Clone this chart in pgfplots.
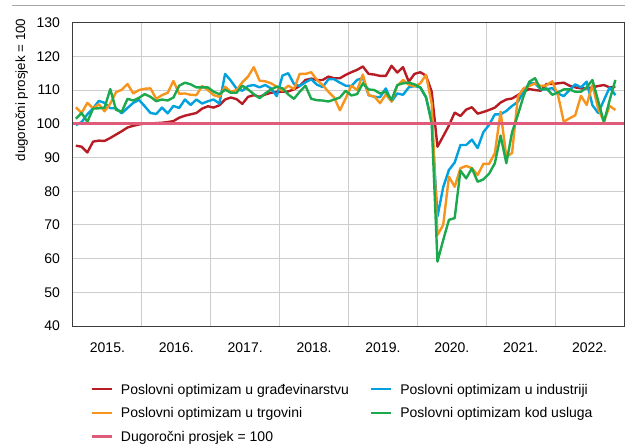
\documentclass[border=0pt]{standalone}
\usepackage{fontspec}
\setmainfont{Liberation Sans}
\usepackage{pgfplots}
\pgfplotsset{compat=1.18}
\usepackage{pgfplotstable}

\definecolor{cred}{RGB}{183,28,36}
\definecolor{cblue}{RGB}{0,161,222}
\definecolor{corange}{RGB}{247,148,30}
\definecolor{cgreen}{RGB}{28,168,76}
\definecolor{cpink}{RGB}{224,90,122}
\definecolor{gridgray}{RGB}{205,205,205}
\definecolor{framegray}{RGB}{60,60,60}

\pgfplotstableread{
i red blue orange green
0 93.5 99.6 104.9 101.5
1 93.2 100.5 103.2 103.2
2 91.5 102.8 106.2 100.6
3 94.7 104.6 104.6 104.5
4 95.0 106.8 105.8 104.6
5 94.9 106.2 103.7 104.8
6 95.8 104.6 106.0 110.3
7 96.8 104.6 109.4 104.1
8 97.8 103.1 110.1 103.6
9 98.9 104.7 111.8 107.4
10 99.4 106.2 109.0 106.9
11 99.8 107.1 110.0 107.7
12 100.1 105.2 110.4 108.8
13 100.1 103.2 110.5 108.0
14 100.2 102.9 107.4 106.7
15 100.3 104.8 108.5 107.2
16 100.5 103.1 109.2 106.9
17 100.8 105.3 112.7 107.8
18 101.8 104.7 108.9 111.3
19 102.4 107.2 109.0 112.2
20 102.8 105.6 108.6 111.7
21 103.2 107.2 108.5 110.8
22 104.5 106.0 111.2 110.8
23 105.2 106.7 110.0 110.8
24 104.8 107.2 108.5 109.5
25 105.5 106.0 108.0 108.8
26 107.2 114.8 111.0 110.1
27 107.8 112.8 109.5 109.2
28 107.3 110.4 110.0 109.2
29 105.9 109.8 112.3 111.3
30 108.0 111.2 114.0 110.2
31 108.5 111.5 116.8 108.8
32 108.0 110.8 112.8 107.6
33 108.7 111.5 112.6 109.0
34 109.2 110.5 112.0 110.2
35 109.5 108.2 111.0 111.0
36 109.5 114.3 109.8 110.5
37 109.6 115.0 111.3 108.7
38 110.2 111.8 110.3 107.4
39 111.2 111.2 114.8 109.5
40 113.0 112.3 114.8 111.3
41 113.4 113.2 115.3 107.4
42 113.0 111.6 113.0 107.0
43 113.0 110.9 111.5 106.9
44 114.0 113.2 109.5 106.6
45 113.5 113.2 107.8 107.2
46 113.5 112.2 104.0 107.8
47 114.5 111.3 107.5 109.8
48 115.3 111.2 111.3 108.4
49 116.0 113.0 110.0 108.8
50 117.0 113.6 114.6 112.0
51 114.8 108.5 108.5 110.2
52 114.6 108.0 108.1 110.0
53 114.2 107.9 106.1 109.0
54 114.2 110.5 108.7 109.5
55 117.2 106.6 106.6 107.1
56 115.2 109.0 111.3 111.5
57 116.8 108.6 113.0 112.0
58 112.5 110.8 111.6 112.2
59 114.8 111.2 111.1 111.7
60 115.3 110.8 112.0 110.8
61 114.3 107.8 114.5 108.0
62 109.5 101.0 106.0 100.0
63 93.2 72.5 67.0 59.1
64 96.3 81.2 70.0 65.5
65 99.5 86.3 84.3 71.5
66 103.3 88.5 81.3 72.0
67 102.3 93.7 86.8 86.1
68 104.2 93.7 87.5 83.8
69 104.9 95.3 86.8 86.8
70 103.0 92.8 84.8 82.8
71 103.5 97.5 88.1 83.5
72 104.1 99.7 88.1 85.2
73 104.8 102.8 91.3 88.3
74 106.3 102.8 103.6 96.5
75 107.2 103.8 90.2 88.3
76 107.5 105.3 91.3 97.5
77 108.5 106.5 108.0 102.6
78 109.5 109.5 110.5 108.2
79 110.3 112.0 111.2 112.5
80 110.0 112.0 112.0 113.5
81 109.8 110.2 111.2 110.2
82 111.8 110.2 111.4 110.5
83 111.8 110.6 112.6 108.6
84 112.0 109.0 108.5 109.3
85 112.2 108.2 100.6 110.2
86 111.3 110.0 101.6 110.2
87 110.8 111.7 102.5 109.5
88 110.5 110.8 108.3 109.5
89 110.5 112.5 105.6 110.8
90 110.8 105.5 111.5 113.0
91 111.2 103.2 104.5 106.8
92 111.5 107.0 100.6 100.5
93 110.8 110.8 105.3 107.0
94 111.0 108.5 104.1 113.0
}\data

\begin{document}
\begin{tikzpicture}
\path[use as bounding box] (-54.75pt,-87.75pt) rectangle (414pt,244.5pt);
\draw[gray!70, line width=0.75pt] (-45.75pt,240pt) -- (414pt,240pt);
\begin{axis}[
  at={(0,0)}, anchor=south west,
  scale only axis, width=413.25pt, height=227.5pt,
  xmin=-0.5, xmax=95.5, ymin=40, ymax=130,
  ytick={40,50,...,130},
  xtick={5.5,17.5,...,89.5},
  xticklabels={2015.,2016.,2017.,2018.,2019.,2020.,2021.,2022.},
  minor xtick={11.5,23.5,...,83.5},
  xminorgrids, ymajorgrids,
  grid style={color=gridgray, line width=0.75pt},
  minor grid style={color=gridgray, line width=0.75pt},
  major tick length=0pt, minor tick length=0pt,
  tick style={draw=none},
  axis line style={draw=framegray, line width=0.75pt},
  tick label style={font=\fontsize{10.5}{12}\selectfont, text=black},
  /pgf/number format/assume math mode=true,
  yticklabel style={anchor=east, xshift=-6.25pt},
  xticklabel style={anchor=center, yshift=-16.5pt},
  ylabel={dugoročni prosjek = 100},
  every axis y label/.style={at={(axis description cs:-0.0931,0.778)}, rotate=90, anchor=center, font=\fontsize{10}{12}\selectfont},
  legend columns=2,
  legend cell align=left,
  legend style={at={(0,0)}, anchor=north west, xshift=12.75pt, yshift=-43.05pt,
    draw=none, fill=none, inner sep=0pt, row sep=9.2pt,
    font=\fontsize{10.5}{12}\selectfont,
    nodes={inner sep=0pt, text height=8pt, text depth=0.4pt},
    /tikz/every odd column/.append style={column sep=6pt},
    /tikz/every even column/.append style={column sep=15.75pt}},
  legend image code/.code={\draw[#1] (0pt,0pt) -- (15pt,0pt);},
  every axis plot/.append style={line join=round},
]
\addplot[cred, line width=1.8pt] table[x=i,y=red]{\data};
\addlegendentry{Poslovni optimizam u građevinarstvu}
\addplot[cblue, line width=1.8pt] table[x=i,y=blue]{\data};
\addlegendentry{Poslovni optimizam u industriji}
\addplot[corange, line width=1.8pt] table[x=i,y=orange]{\data};
\addlegendentry{Poslovni optimizam u trgovini}
\addplot[cgreen, line width=1.8pt] table[x=i,y=green]{\data};
\addlegendentry{Poslovni optimizam kod usluga}
\addplot[cpink, line width=2pt] coordinates {(-0.5,100) (95.5,100)};
\addlegendentry{Dugoročni prosjek = 100}
\end{axis}
\end{tikzpicture}
\end{document}
